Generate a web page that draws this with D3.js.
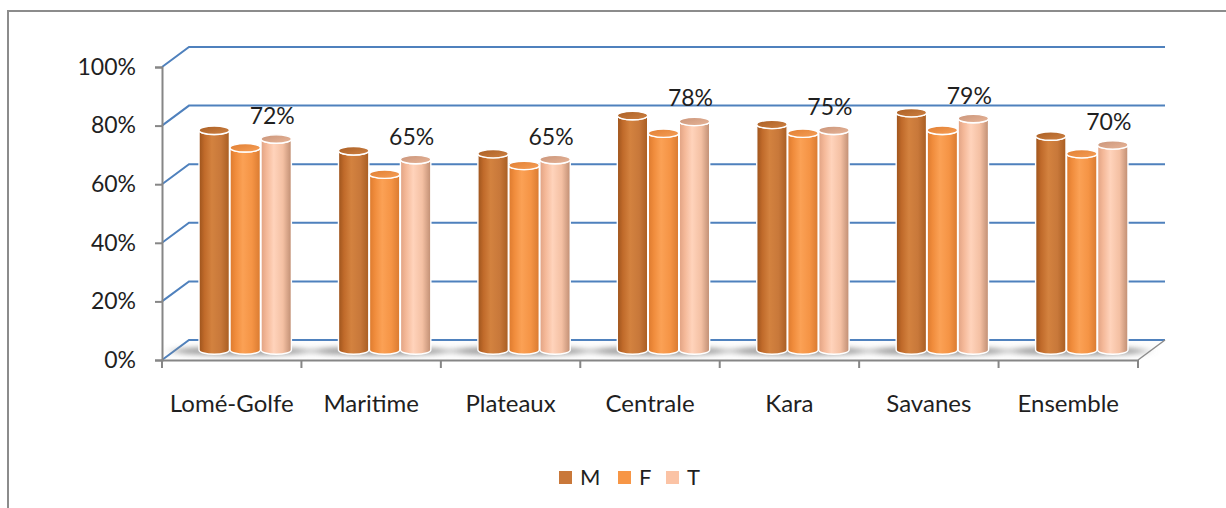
<!DOCTYPE html>
<html>
<head>
<meta charset="utf-8">
<script src="https://cdn.jsdelivr.net/npm/d3@7"></script>
<style>
  html, body { margin: 0; padding: 0; background: #fff; }
  svg { display: block; }
  text { font-family: Lato, "Open Sans", sans-serif; fill: #1f1f1f; }
</style>
</head>
<body>
<svg id="chart" width="1226" height="508"></svg>
<script>
// Régions et séries
const categories = ["Lomé-Golfe", "Maritime", "Plateaux", "Centrale", "Kara", "Savanes", "Ensemble"];
const series = ["M", "F", "T"];
const valuesM = [0.75, 0.68, 0.67, 0.80, 0.77, 0.81, 0.73];
const valuesF = [0.69, 0.60, 0.63, 0.74, 0.74, 0.75, 0.67];
const valuesT = [0.72, 0.65, 0.65, 0.78, 0.75, 0.79, 0.70];
const yTicks = [0, 0.2, 0.4, 0.6, 0.8, 1.0];
const yTickLabels = ["0%", "20%", "40%", "60%", "80%", "100%"];
const labelledSeries = "T";

const seriesValues = { M: valuesM, F: valuesF, T: valuesT };
const colors = {
  M: { body: ["#9c531c", "#c06a2a", "#d3823f", "#c8783a", "#a85d22"], top: ["#a95e24", "#cf8243"], swatch: "#c9783a" },
  F: { body: ["#dc7a2e", "#f08c3c", "#fba155", "#f59445", "#d97a30"], top: ["#e07e32", "#f7a058"], swatch: "#f79646" },
  T: { body: ["#e0a283", "#f4b898", "#ffd3bb", "#f4c0a3", "#bf8d72"], top: ["#c99479", "#e8b598"], swatch: "#fbc3a5" }
};

const svg = d3.select("#chart");
const defs = svg.append("defs");

// Outer frame
svg.append("rect")
  .attr("x", 8).attr("y", 11).attr("width", 1240).attr("height", 520)
  .attr("fill", "none").attr("stroke", "#8c8c8c").attr("stroke-width", 2);

// Plot geometry: front plane and depth offset of the 3D box
const x0 = d3.scaleBand().domain(categories).range([162, 1138]).padding(0);
const x1 = d3.scaleBand().domain(series).range([0, x0.bandwidth()]).paddingInner(0).paddingOuter(0.75);
const y = d3.scaleLinear().domain([0, 1]).range([360, 67]);
const depthX = 27, depthY = -20;
const barDepth = 0.5; // columns stand halfway into the box
const [xL, xR] = x0.range();

// Floor
svg.append("path")
  .attr("d", `M${xL},${y(0)} L${xR},${y(0)} L${xR + depthX},${y(0) + depthY} L${xL + depthX},${y(0) + depthY} Z`)
  .attr("fill", "#fdfdfd");

// Gridlines: side wall diagonals and back wall horizontals
const grid = svg.append("g").attr("stroke", "#4f81bd").attr("stroke-width", 2).attr("fill", "none");
yTicks.forEach(t => {
  grid.append("path")
    .attr("d", `M${xL},${y(t)} L${xL + depthX},${y(t) + depthY} L${xR + depthX},${y(t) + depthY}`);
});

// Floor right edge
svg.append("line")
  .attr("x1", xR).attr("y1", y(0)).attr("x2", xR + depthX).attr("y2", y(0) + depthY)
  .attr("stroke", "#8c8c8c").attr("stroke-width", 1.5);

// Soft shadows on the floor under each group
const blur = defs.append("filter").attr("id", "soft").attr("x", "-50%").attr("y", "-200%").attr("width", "200%").attr("height", "500%");
blur.append("feGaussianBlur").attr("stdDeviation", "7 2.5");
const shadows = svg.append("g").attr("filter", "url(#soft)");
categories.forEach(c => {
  const cx = x0(c) + x0.bandwidth() / 2 + depthX * barDepth;
  const cy = y(0) + depthY * barDepth;
  shadows.append("ellipse")
    .attr("cx", cx - 4).attr("cy", cy + 1)
    .attr("rx", x1.bandwidth() * 2.2).attr("ry", 5)
    .attr("fill", "#8a8a8a").attr("opacity", 0.75);
});

// Gradients for the cylinders
series.forEach(s => {
  const g = defs.append("linearGradient").attr("id", "body-" + s).attr("x1", 0).attr("x2", 1).attr("y1", 0).attr("y2", 0);
  const stops = [0, 0.18, 0.42, 0.72, 1];
  colors[s].body.forEach((col, i) => g.append("stop").attr("offset", stops[i]).attr("stop-color", col));
  const t = defs.append("linearGradient").attr("id", "top-" + s).attr("x1", 0).attr("x2", 1).attr("y1", 0).attr("y2", 1);
  t.append("stop").attr("offset", 0).attr("stop-color", colors[s].top[0]);
  t.append("stop").attr("offset", 1).attr("stop-color", colors[s].top[1]);
});

// Axes
const axisColor = "#868686";
const yAxis = d3.axisLeft(y).tickValues(yTicks).tickSize(7).tickPadding(19)
  .tickFormat((d, i) => yTickLabels[i]);
const gy = svg.append("g").attr("transform", `translate(${xL},0)`).call(yAxis);
gy.select(".domain").attr("stroke", axisColor).attr("stroke-width", 2);
gy.selectAll(".tick line").attr("stroke", axisColor).attr("stroke-width", 2);
gy.selectAll(".tick text").attr("font-size", 23).attr("font-family", "Lato, sans-serif").attr("fill", "#1f1f1f");

const xAxis = d3.axisBottom(x0).tickSize(0).tickPadding(35);
const gx = svg.append("g").attr("transform", `translate(0,${y(0)})`).call(xAxis);
gx.select(".domain").attr("stroke", axisColor).attr("stroke-width", 2);
gx.selectAll(".tick text").attr("font-size", 24).attr("font-family", "Lato, sans-serif").attr("fill", "#1f1f1f");
const boundaries = categories.map(c => x0(c)).concat([xR]);
gx.selectAll(".bound").data(boundaries).join("line")
  .attr("class", "bound")
  .attr("x1", d => d).attr("x2", d => d).attr("y1", 0).attr("y2", 8)
  .attr("stroke", axisColor).attr("stroke-width", 2);

// Cylinders
const ry = 4.2;
const bars = svg.append("g");
categories.forEach((c, i) => {
  series.forEach(s => {
    const v = seriesValues[s][i];
    const r = x1.bandwidth() / 2 - 0.3;
    const cx = x0(c) + x1(s) + x1.bandwidth() / 2 + depthX * barDepth;
    const yb = y(0) + depthY * barDepth;
    const yt = y(v) + depthY * barDepth;
    const L = cx - r, R = cx + r;
    bars.append("path")
      .attr("d", `M${L},${yt} L${L},${yb} A${r},${ry} 0 0 0 ${R},${yb} L${R},${yt} A${r},${ry} 0 0 1 ${L},${yt} Z`)
      .attr("fill", `url(#body-${s})`)
      .attr("stroke", "#ffffff").attr("stroke-width", 1.4);
    bars.append("ellipse")
      .attr("cx", cx).attr("cy", yt).attr("rx", r).attr("ry", ry)
      .attr("fill", `url(#top-${s})`)
      .attr("stroke", "#ffffff").attr("stroke-width", 1.4);
  });
});

// Value labels on the T series
const labels = svg.append("g");
categories.forEach((c, i) => {
  const v = seriesValues[labelledSeries][i];
  const cx = x0(c) + x1(labelledSeries) + x1.bandwidth() / 2 + depthX * barDepth;
  labels.append("text")
    .attr("x", cx - 4)
    .attr("y", y(v) + depthY * barDepth - 15)
    .attr("text-anchor", "middle")
    .attr("font-size", 23)
    .text(d3.format(".0%")(v));
});

// Legend
const legendItems = [
  { key: "M", x: 559 },
  { key: "F", x: 618 },
  { key: "T", x: 666 }
];
const legend = svg.append("g");
legendItems.forEach(it => {
  legend.append("rect")
    .attr("x", it.x).attr("y", 471).attr("width", 13).attr("height", 13)
    .attr("fill", colors[it.key].swatch);
  legend.append("text")
    .attr("x", it.x + 21).attr("y", 485)
    .attr("font-size", 22)
    .text(it.key);
});
</script>
</body>
</html>
